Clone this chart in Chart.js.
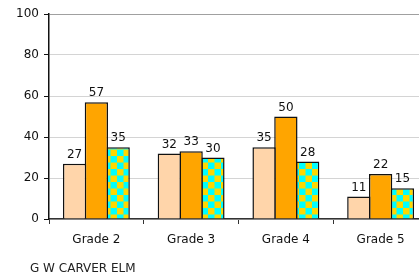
<!DOCTYPE html>
<html>
<head>
<meta charset="utf-8">
<script src="https://cdn.jsdelivr.net/npm/chart.js@4/dist/chart.umd.min.js"></script>
<style>
  html, body { margin: 0; padding: 0; background: #fff; overflow: hidden; width: 419px; height: 277px; }
  #wrap { position: relative; width: 430px; height: 277px; }
  #caption { position: absolute; left: 30px; top: 261px; font: 12px "DejaVu Sans", Verdana, sans-serif; color: #222; }
</style>
</head>
<body>
<div id="wrap">
  <canvas id="gradeChart" width="430" height="277"></canvas>
  <div id="caption">G W CARVER ELM</div>
</div>
<script>
const categories = ['Grade 2', 'Grade 3', 'Grade 4', 'Grade 5'];
const seriesA = [27, 32, 35, 11];
const seriesB = [57, 33, 50, 22];
const seriesC = [35, 30, 28, 15];
const yTicks = [0, 20, 40, 60, 80, 100];

const FONT = '"DejaVu Sans", Verdana, sans-serif';

// checker fill for third series
function makeChecker() {
  const c = document.createElement('canvas');
  c.width = 13; c.height = 13;
  const g = c.getContext('2d');
  g.fillStyle = '#00ffff';
  g.fillRect(0, 0, 13, 13);
  g.fillStyle = '#ffd700';
  g.fillRect(0, 0, 6.5, 6.5);
  g.fillRect(6.5, 6.5, 6.5, 6.5);
  return g.createPattern(c, 'repeat');
}

// value labels above each bar
const valueLabels = {
  id: 'valueLabels',
  afterDatasetsDraw(chart) {
    const ctx = chart.ctx;
    ctx.save();
    ctx.font = '12px ' + FONT;
    ctx.fillStyle = '#111';
    ctx.textAlign = 'center';
    ctx.textBaseline = 'bottom';
    chart.data.datasets.forEach((ds, i) => {
      chart.getDatasetMeta(i).data.forEach((bar, j) => {
        ctx.fillText(ds.data[j], bar.x, bar.y - 3);
      });
    });
    ctx.restore();
  }
};

const ctx = document.getElementById('gradeChart').getContext('2d');
new Chart(ctx, {
  type: 'bar',
  data: {
    labels: categories,
    datasets: [
      { data: seriesA, backgroundColor: '#ffd5aa', borderColor: '#111', borderWidth: 1.5 },
      { data: seriesB, backgroundColor: '#ffa500', borderColor: '#111', borderWidth: 1.5 },
      { data: seriesC, backgroundColor: makeChecker(), borderColor: '#111', borderWidth: 1.5 }
    ]
  },
  options: {
    responsive: false,
    animation: false,
    layout: { padding: { left: 0, top: 14, right: 2, bottom: 0 } },
    // slight overlap so neighbouring bars share one border line
    datasets: { bar: { categoryPercentage: 0.69, barPercentage: 1.07 } },
    plugins: { legend: { display: false }, tooltip: { enabled: false } },
    scales: {
      x: {
        grid: { offset: true, drawOnChartArea: false, tickLength: 5, tickColor: '#333' },
        border: { color: '#333', width: 1.5 },
        ticks: { color: '#111', padding: 9, font: { family: FONT, size: 12 } },
        afterFit: s => { s.height = 58; }
      },
      y: {
        min: 0, max: 100,
        afterBuildTicks: s => { s.ticks = yTicks.map(v => ({ value: v })); },
        grid: {
          color: c => c.tick && c.tick.value === 100 ? '#a0a0a0' : '#d4d4d4',
          tickLength: 5, tickColor: '#111'
        },
        border: { color: '#111', width: 1.5 },
        ticks: { color: '#111', padding: 5, font: { family: FONT, size: 12 } },
        afterFit: s => { s.width = 49; }
      }
    }
  },
  plugins: [valueLabels]
});
</script>
</body>
</html>
